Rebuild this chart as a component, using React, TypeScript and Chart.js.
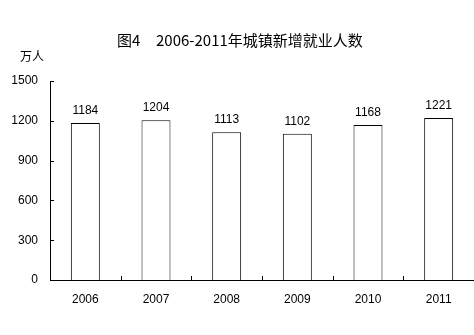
import React, { useEffect, useRef } from 'react';
import { Chart, registerables } from 'chart.js';

Chart.register(...registerables);

const categories = ['2006', '2007', '2008', '2009', '2010', '2011'];
const values = [1184, 1204, 1113, 1102, 1168, 1221];
const yMin = 0;
const yMax = 1500;
const yStep = 300;
const titlePrefix = '图4';
const titleText = '2006-2011年城镇新增就业人数';
const unitText = '万人';

const FONT = '"Liberation Sans", Arial, sans-serif';
const CJK = '"Noto Sans CJK SC", "Liberation Sans", sans-serif';

const decorPlugin = {
  id: 'decor',
  afterDraw(chart: any) {
    const ctx = chart.ctx;
    const xs = chart.scales.x;
    const ys = chart.scales.y;
    const area = chart.chartArea;
    ctx.save();
    ctx.strokeStyle = '#000';
    ctx.lineWidth = 1;
    // inward y ticks
    ys.ticks.forEach((t: any) => {
      const y = Math.round(ys.getPixelForValue(t.value)) + 0.5;
      if (t.value === yMin) return;
      ctx.beginPath();
      ctx.moveTo(area.left, y);
      ctx.lineTo(area.left + 4, y);
      ctx.stroke();
    });
    // inward x ticks at category boundaries
    for (let i = 1; i < categories.length; i++) {
      const x = Math.round((xs.getPixelForValue(i - 1) + xs.getPixelForValue(i)) / 2) + 0.5;
      ctx.beginPath();
      ctx.moveTo(x, area.bottom);
      ctx.lineTo(x, area.bottom - 4);
      ctx.stroke();
    }
    // data labels
    ctx.fillStyle = '#000';
    ctx.font = '12px ' + FONT;
    ctx.textAlign = 'center';
    ctx.textBaseline = 'middle';
    const meta = chart.getDatasetMeta(0);
    meta.data.forEach((el: any, i: number) => {
      ctx.fillText(String(values[i]), el.x, el.y - 12.5);
    });
    // title
    ctx.font = '15px ' + CJK;
    ctx.textAlign = 'left';
    ctx.fillText(titlePrefix, 117, 40);
    ctx.fillText(titleText, 156, 40);
    // unit
    ctx.font = '12px ' + CJK;
    ctx.textAlign = 'center';
    ctx.fillText(unitText, 32, 56);
    ctx.restore();
  },
};

export default function App() {
  const ref = useRef<HTMLCanvasElement>(null);
  useEffect(() => {
    if (!ref.current) return;
    const chart = new Chart(ref.current, {
      type: 'bar',
      data: {
        labels: categories,
        datasets: [
          {
            data: values,
            backgroundColor: '#ffffff',
            borderColor: '#000000',
            borderWidth: 1,
            barPercentage: 0.41,
            categoryPercentage: 1,
          },
        ],
      },
      options: {
        animation: false,
        responsive: false,
        maintainAspectRatio: false,
        layout: { padding: { top: 81, left: 11, right: 0, bottom: 0 } },
        plugins: { legend: { display: false }, tooltip: { enabled: false }, title: { display: false } },
        scales: {
          x: {
            grid: { display: false, drawTicks: false },
            border: { display: true, color: '#000', width: 1 },
            ticks: { color: '#000', font: { family: FONT, size: 12 }, padding: 12, maxRotation: 0 },
            afterFit(scale: any) {
              scale.height = 55;
            },
          },
          y: {
            min: yMin,
            max: yMax,
            grid: { display: false, drawTicks: false },
            border: { display: true, color: '#000', width: 1 },
            ticks: {
              stepSize: yStep,
              color: '#000',
              font: { family: FONT, size: 12 },
              padding: 12,
              callback: (v: any) => String(v),
            },
            afterFit(scale: any) {
              scale.width = 39;
            },
          },
        },
      },
      plugins: [decorPlugin],
    });
    return () => chart.destroy();
  }, []);
  return (
    <div style={{ position: 'fixed', left: 0, top: 0, width: 474, height: 335, background: '#fff' }}>
      <canvas ref={ref} width={474} height={335} style={{ width: 474, height: 335 }} />
    </div>
  );
}
